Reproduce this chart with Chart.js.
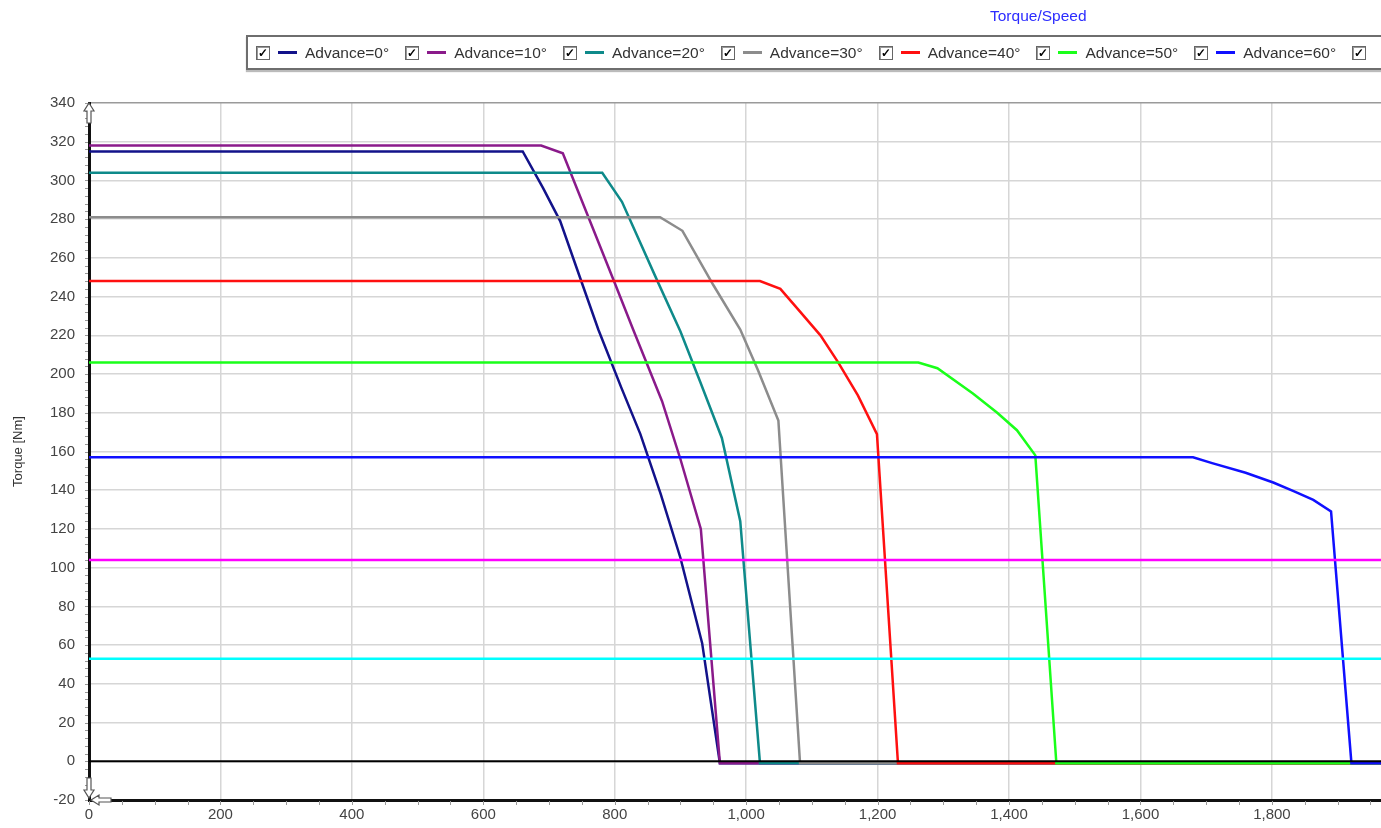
<!DOCTYPE html>
<html>
<head>
<meta charset="utf-8">
<script src="https://cdn.jsdelivr.net/npm/chart.js@4.4.1/dist/chart.umd.min.js"></script>
<style>
  body { margin: 0; background: #fff; font-family: "Liberation Sans", Arial, sans-serif; }
  #wrap { position: relative; width: 1381px; height: 828px; overflow: hidden; }
  #chart { position: absolute; left: 0; top: 0; }
  #title { position: absolute; top: 7px; left: 990px; font-size: 15.5px; color: #2b2bff; }
  #legend {
    position: absolute; left: 246px; top: 35px; width: 1200px; height: 31px;
    border: 2px solid #6e6e6e; border-right: none; box-shadow: 0 2px 1px #bbb;
    display: flex; align-items: center; padding-left: 8px; white-space: nowrap;
  }
  .item { display: flex; align-items: center; margin-right: 16px; }
  .box {
    width: 12px; height: 12px; border: 1px solid #666; box-shadow: inset 1px 1px 0 #999;
    font-size: 12px; line-height: 12px; text-align: center; color: #000; font-weight: bold;
  }
  .swatch { width: 19px; height: 3px; margin: 0 8px; }
  .label { font-size: 15.5px; color: #333; }
</style>
</head>
<body>
<div id="wrap">
  <canvas id="chart" width="1381" height="828"></canvas>
  <div id="title">Torque/Speed</div>
  <div id="legend"></div>
</div>
<script>
// values (speed in rpm, torque in Nm)
const names = ["Advance=0°", "Advance=10°", "Advance=20°", "Advance=30°", "Advance=40°", "Advance=50°", "Advance=60°"];
const colors = ["#12128a", "#8a1a8a", "#0e8a8a", "#8c8c8c", "#ff1010", "#1aff1a", "#1010ff"];

const speed0 = [0, 660, 691, 717, 747, 775, 810, 839, 870, 900, 933, 960, 1966];
const torque0 = [315, 315, 296, 279, 250, 223, 193, 169, 138, 105, 61, -1, -1];

const speed10 = [0, 688, 721, 760, 800, 828, 872, 900, 931, 960, 1966];
const torque10 = [318, 318, 314, 281, 247, 223, 186, 156, 120, -1, -1];

const speed20 = [0, 781, 811, 865, 900, 930, 963, 991, 1021, 1966];
const torque20 = [304, 304, 289, 248, 222, 196, 167, 124, -1, -1];

const speed30 = [0, 869, 903, 950, 991, 1018, 1049, 1082, 1966];
const torque30 = [281, 281, 274, 246, 223, 202, 176, -1, -1];

const speed40 = [0, 1021, 1052, 1080, 1113, 1140, 1170, 1199, 1231, 1966];
const torque40 = [248, 248, 244, 233, 220, 206, 189, 169, -1, -1];

const speed50 = [0, 1262, 1291, 1345, 1382, 1412, 1440, 1472, 1966];
const torque50 = [206, 206, 203, 190, 180, 171, 158, -1, -1];

const speed60 = [0, 1680, 1709, 1760, 1802, 1833, 1863, 1890, 1921, 1966];
const torque60 = [157, 157, 154, 149, 144, 139.5, 135, 129, -1, -1];

// horizontal reference lines
const refSpeed = [0, 1966];
const refMagenta = [104, 104];
const refCyan = [53, 53];
const refZero = [0, 0];

// tick labels
const xTicks = [0, 200, 400, 600, 800, 1000, 1200, 1400, 1600, 1800];
const yTicks = [-20, 0, 20, 40, 60, 80, 100, 120, 140, 160, 180, 200, 220, 240, 260, 280, 300, 320, 340];

const xMin = 0, xMax = 1966, yMin = -20, yMax = 340;

function pts(xs, ys) { return xs.map((x, i) => ({ x: x, y: ys[i] })); }

const curves = [
  [speed0, torque0], [speed10, torque10], [speed20, torque20], [speed30, torque30],
  [speed40, torque40], [speed50, torque50], [speed60, torque60]
];

const datasets = curves.map((c, i) => ({
  label: names[i],
  data: pts(c[0], c[1]),
  borderColor: colors[i],
  borderWidth: 2.5,
  pointRadius: 0,
  tension: 0,
  order: 20 - i
}));
datasets.push({ label: "ref1", data: pts(refSpeed, refMagenta), borderColor: "#ff00ff", borderWidth: 2.5, pointRadius: 0, order: 5 });
datasets.push({ label: "ref2", data: pts(refSpeed, refCyan), borderColor: "#00ffff", borderWidth: 2.5, pointRadius: 0, order: 4 });
datasets.push({ label: "zero", data: pts(refSpeed, refZero), borderColor: "#000", borderWidth: 2, pointRadius: 0, order: 3 });

// html legend
const legend = document.getElementById("legend");
names.forEach((n, i) => {
  legend.insertAdjacentHTML("beforeend",
    `<div class="item"><div class="box">✓</div><div class="swatch" style="background:${colors[i]}"></div><span class="label">${n}</span></div>`);
});
legend.insertAdjacentHTML("beforeend", `<div class="item"><div class="box">✓</div></div>`);

// minor ticks + axis arrows
const axisExtras = {
  id: "axisExtras",
  afterDraw(chart) {
    const ctx = chart.ctx, a = chart.chartArea;
    const xs = chart.scales.x, ys = chart.scales.y;
    ctx.save();
    ctx.strokeStyle = "#999";
    ctx.lineWidth = 1;
    ctx.beginPath();
    for (let v = 0; v <= xMax; v += 50) {
      const px = Math.round(xs.getPixelForValue(v)) + 0.5;
      ctx.moveTo(px, a.bottom + 1); ctx.lineTo(px, a.bottom + 5);
    }
    for (let v = yMin; v <= yMax; v += 4) {
      const py = Math.round(ys.getPixelForValue(v)) + 0.5;
      ctx.moveTo(a.left - 4, py); ctx.lineTo(a.left - 1, py);
    }
    ctx.stroke();

    // hollow arrows
    ctx.fillStyle = "#fff";
    ctx.strokeStyle = "#555";
    ctx.lineWidth = 1.2;
    const L = a.left, T = a.top, B = a.bottom;
    ctx.beginPath();
    ctx.moveTo(L, T); ctx.lineTo(L + 5, T + 8); ctx.lineTo(L + 2, T + 8); ctx.lineTo(L + 2, T + 20);
    ctx.lineTo(L - 2, T + 20); ctx.lineTo(L - 2, T + 8); ctx.lineTo(L - 5, T + 8); ctx.closePath();
    ctx.fill(); ctx.stroke();
    ctx.beginPath();
    ctx.moveTo(L, B - 2); ctx.lineTo(L + 5, B - 10); ctx.lineTo(L + 2, B - 10); ctx.lineTo(L + 2, B - 22);
    ctx.lineTo(L - 2, B - 22); ctx.lineTo(L - 2, B - 10); ctx.lineTo(L - 5, B - 10); ctx.closePath();
    ctx.fill(); ctx.stroke();
    ctx.beginPath();
    ctx.moveTo(L + 2, B); ctx.lineTo(L + 10, B - 5); ctx.lineTo(L + 10, B - 2); ctx.lineTo(L + 22, B - 2);
    ctx.lineTo(L + 22, B + 2); ctx.lineTo(L + 10, B + 2); ctx.lineTo(L + 10, B + 5); ctx.closePath();
    ctx.fill(); ctx.stroke();
    ctx.restore();
  }
};

new Chart(document.getElementById("chart"), {
  type: "line",
  data: { datasets: datasets },
  options: {
    responsive: false,
    animation: false,
    layout: { padding: { top: 103, right: 0, left: 0, bottom: 0 } },
    plugins: { legend: { display: false }, tooltip: { enabled: false } },
    scales: {
      x: {
        type: "linear",
        min: xMin, max: xMax,
        afterBuildTicks(scale) { scale.ticks = xTicks.map(v => ({ value: v })); },
        afterFit(scale) { scale.height = 28; },
        ticks: {
          color: "#444",
          font: { family: "Liberation Sans", size: 15 },
          padding: 6,
          maxRotation: 0,
          autoSkip: false,
          callback: v => v.toLocaleString("en-US")
        },
        grid: { color: "#d6d6d6", lineWidth: 1.5, drawTicks: false },
        border: { color: "#111", width: 3 }
      },
      y: {
        min: yMin, max: yMax,
        afterBuildTicks(scale) { scale.ticks = yTicks.map(v => ({ value: v })); },
        afterFit(scale) { scale.width = 89; },
        ticks: {
          color: "#444",
          autoSkip: false,
          font: { family: "Liberation Sans", size: 15 },
          padding: 14
        },
        title: {
          display: true,
          text: "Torque [Nm]",
          color: "#333",
          font: { family: "Liberation Sans", size: 13 },
          padding: { top: 11, bottom: 0 }
        },
        grid: {
          color: ctx => (ctx.tick && ctx.tick.value === yMax ? "#9a9a9a" : "#d6d6d6"),
          lineWidth: 1.5,
          drawTicks: false
        },
        border: { color: "#111", width: 3 }
      }
    }
  },
  plugins: [axisExtras]
});
</script>
</body>
</html>
